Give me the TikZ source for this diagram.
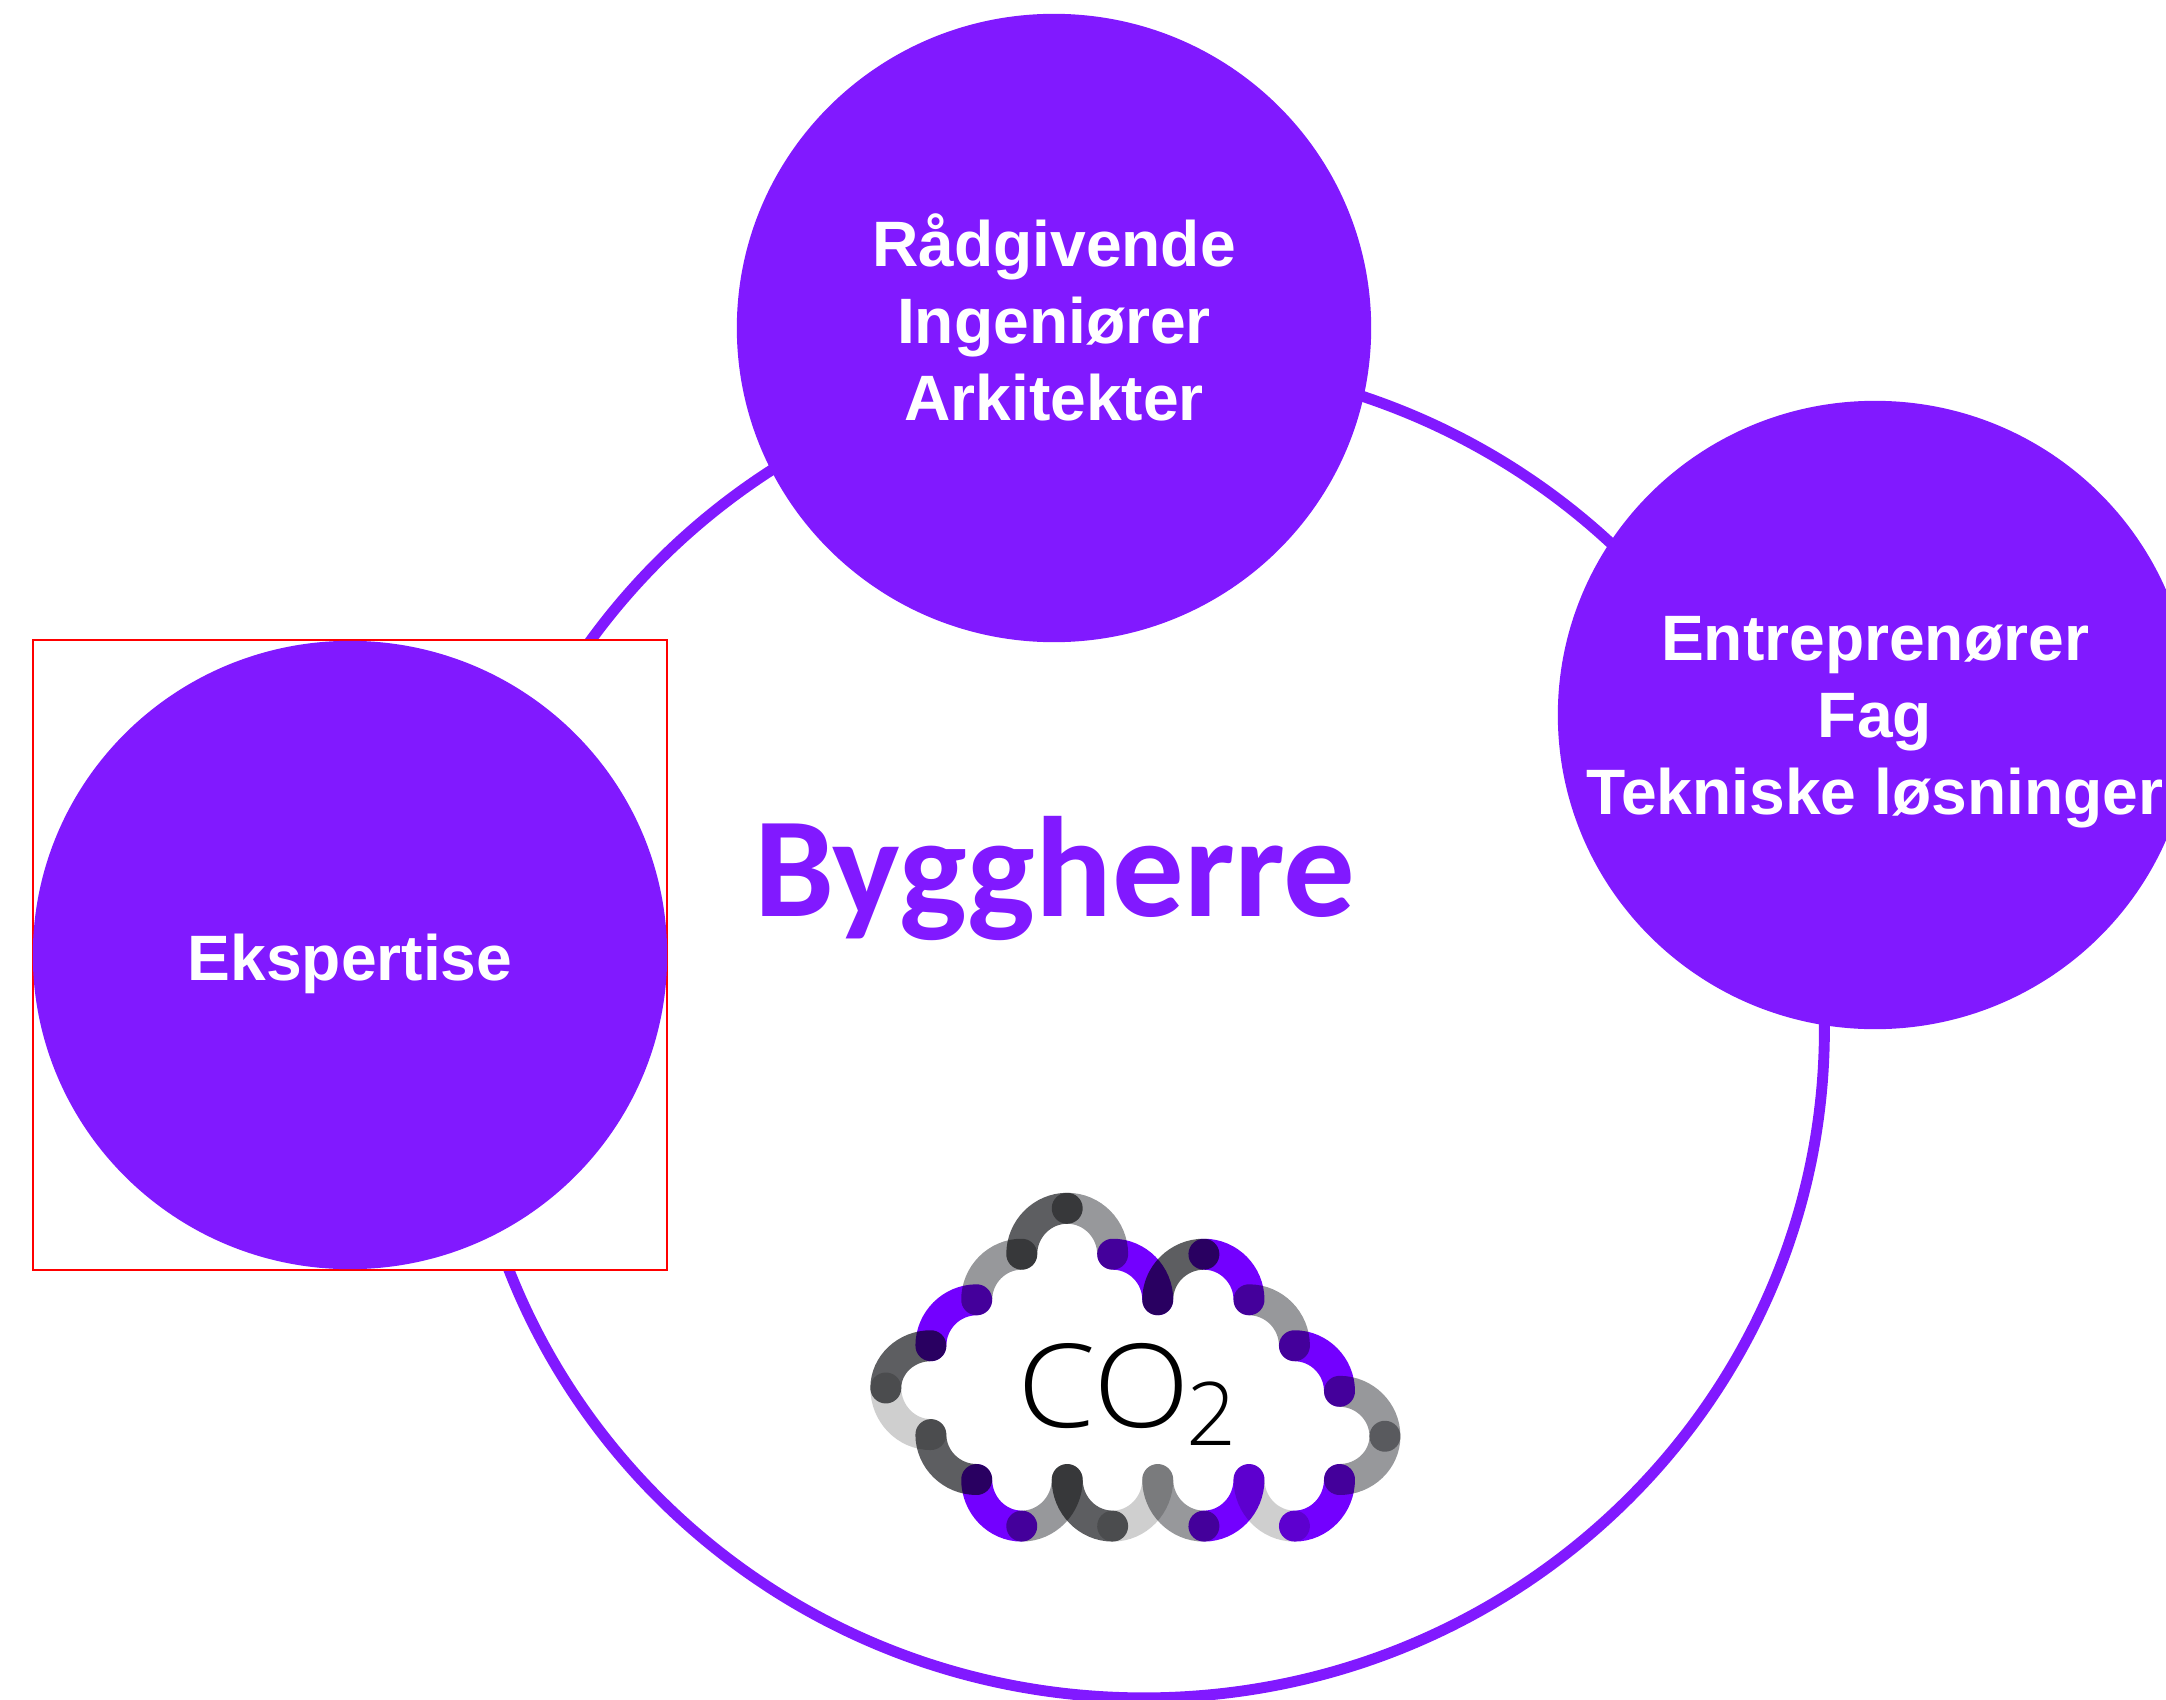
\documentclass[tikz,border=0pt]{standalone}
\usepackage{fontspec}
\usetikzlibrary{shapes.geometric,calc}
\setmainfont{Liberation Sans}
\newfontfamily\carlitofont{Carlito}
\newfontfamily\cofont[FakeStretch=1.09]{Open Sans Light}
\newfontfamily\twofont{Open Sans Light}
\definecolor{brandviolet}{HTML}{8119FF}
\definecolor{cloudviolet}{HTML}{7300FF}
\definecolor{cloudlight}{HTML}{CFCFCF}
\definecolor{cloudmid}{HTML}{97989B}
\definecolor{clouddark}{HTML}{5D5E61}
\tikzset{
  bubble/.style={ellipse,fill=brandviolet,inner sep=0pt,minimum width=6.34cm,minimum height=6.28cm},
  bubbletext/.style={text=white,inner sep=0pt,align=center,font=\fontsize{18.25}{21.9}\selectfont\bfseries},
  ringline/.style={ellipse,draw=brandviolet,line width=3.1pt,inner sep=0pt,minimum width=13.6cm,minimum height=13.36cm},
  redframe/.style={rectangle,draw=red,fill=white,line width=0.5pt,inner sep=0pt,minimum width=6.34cm,minimum height=6.29cm},
  cloudseg/.style={line width=8.8pt,line cap=round}
}
\newcommand{\cloudH}[5]{\draw[cloudseg,#1] (#2,#3) .. controls ($(#2,#3)!.55!(#4,#3)$) and ($(#4,#5)!.55!(#4,#3)$) .. (#4,#5);}
\newcommand{\cloudV}[5]{\draw[cloudseg,#1] (#2,#3) .. controls ($(#2,#3)!.55!(#2,#5)$) and ($(#4,#5)!.55!(#2,#5)$) .. (#4,#5);}
\begin{document}
\begin{tikzpicture}[x=0.01cm,y=-0.01cm]
\useasboundingbox (0,0) rectangle (2166,1700);
\node[ringline] (ring) at (1144,1029.5) {};
\node[redframe] (frame) at (350,955) {};
\node[bubble] (ekspertise) at (350,955) {};
\node[bubbletext] (ekspertisetext) at (350,964) {Ekspertise};
\node[bubble] (raad) at (1054,328) {};
\node[bubbletext] (raadtext) at (1054,317) {Rådgivende\\Ingeniører\\Arkitekter};
\node[bubble] (entre) at (1875,715) {};
\node[bubbletext] (entretext) at (1875,722) {Entreprenører\\Fag\\Tekniske løsninger};
\node[text=brandviolet,font=\carlitofont\bfseries\fontsize{40.6}{48}\selectfont,inner sep=0pt] (bygg) at (1055,879) {Byggherre};
\begin{scope}[shift={(840,1170)},x=0.0037cm,y=-0.00333cm,blend mode=multiply]
\cloudV{clouddark}{492}{253}{615}{115}
\cloudH{cloudmid}{615}{115}{738}{253}
\cloudH{cloudviolet}{738}{253}{860}{390}
\cloudV{clouddark}{860}{390}{985}{253}
\cloudH{cloudviolet}{985}{253}{1107}{390}
\cloudH{cloudmid}{1107}{390}{1230}{528}
\cloudH{cloudviolet}{1230}{528}{1352}{665}
\cloudH{cloudmid}{1352}{665}{1475}{800}
\cloudV{cloudmid}{1475}{800}{1352}{930}
\cloudV{cloudviolet}{1352}{930}{1230}{1070}
\cloudH{cloudlight}{1230}{1070}{1107}{930}
\cloudV{cloudviolet}{1107}{930}{985}{1070}
\cloudH{cloudmid}{985}{1070}{860}{930}
\cloudV{cloudlight}{860}{930}{738}{1070}
\cloudH{clouddark}{738}{1070}{615}{930}
\cloudV{cloudmid}{615}{930}{492}{1070}
\cloudH{cloudviolet}{492}{1070}{370}{930}
\cloudH{clouddark}{370}{930}{246}{795}
\cloudH{cloudlight}{246}{795}{124}{655}
\cloudV{clouddark}{124}{655}{246}{528}
\cloudV{cloudviolet}{246}{528}{370}{390}
\cloudV{cloudmid}{370}{390}{492}{253}
\end{scope}
\node[font=\cofont\fontsize{33}{38}\selectfont,inner sep=0pt] (co) at (1104,1386) {CO};
\node[font=\twofont\fontsize{25}{30}\selectfont,inner sep=0pt] (two) at (1212,1414) {2};
\end{tikzpicture}
\end{document}
